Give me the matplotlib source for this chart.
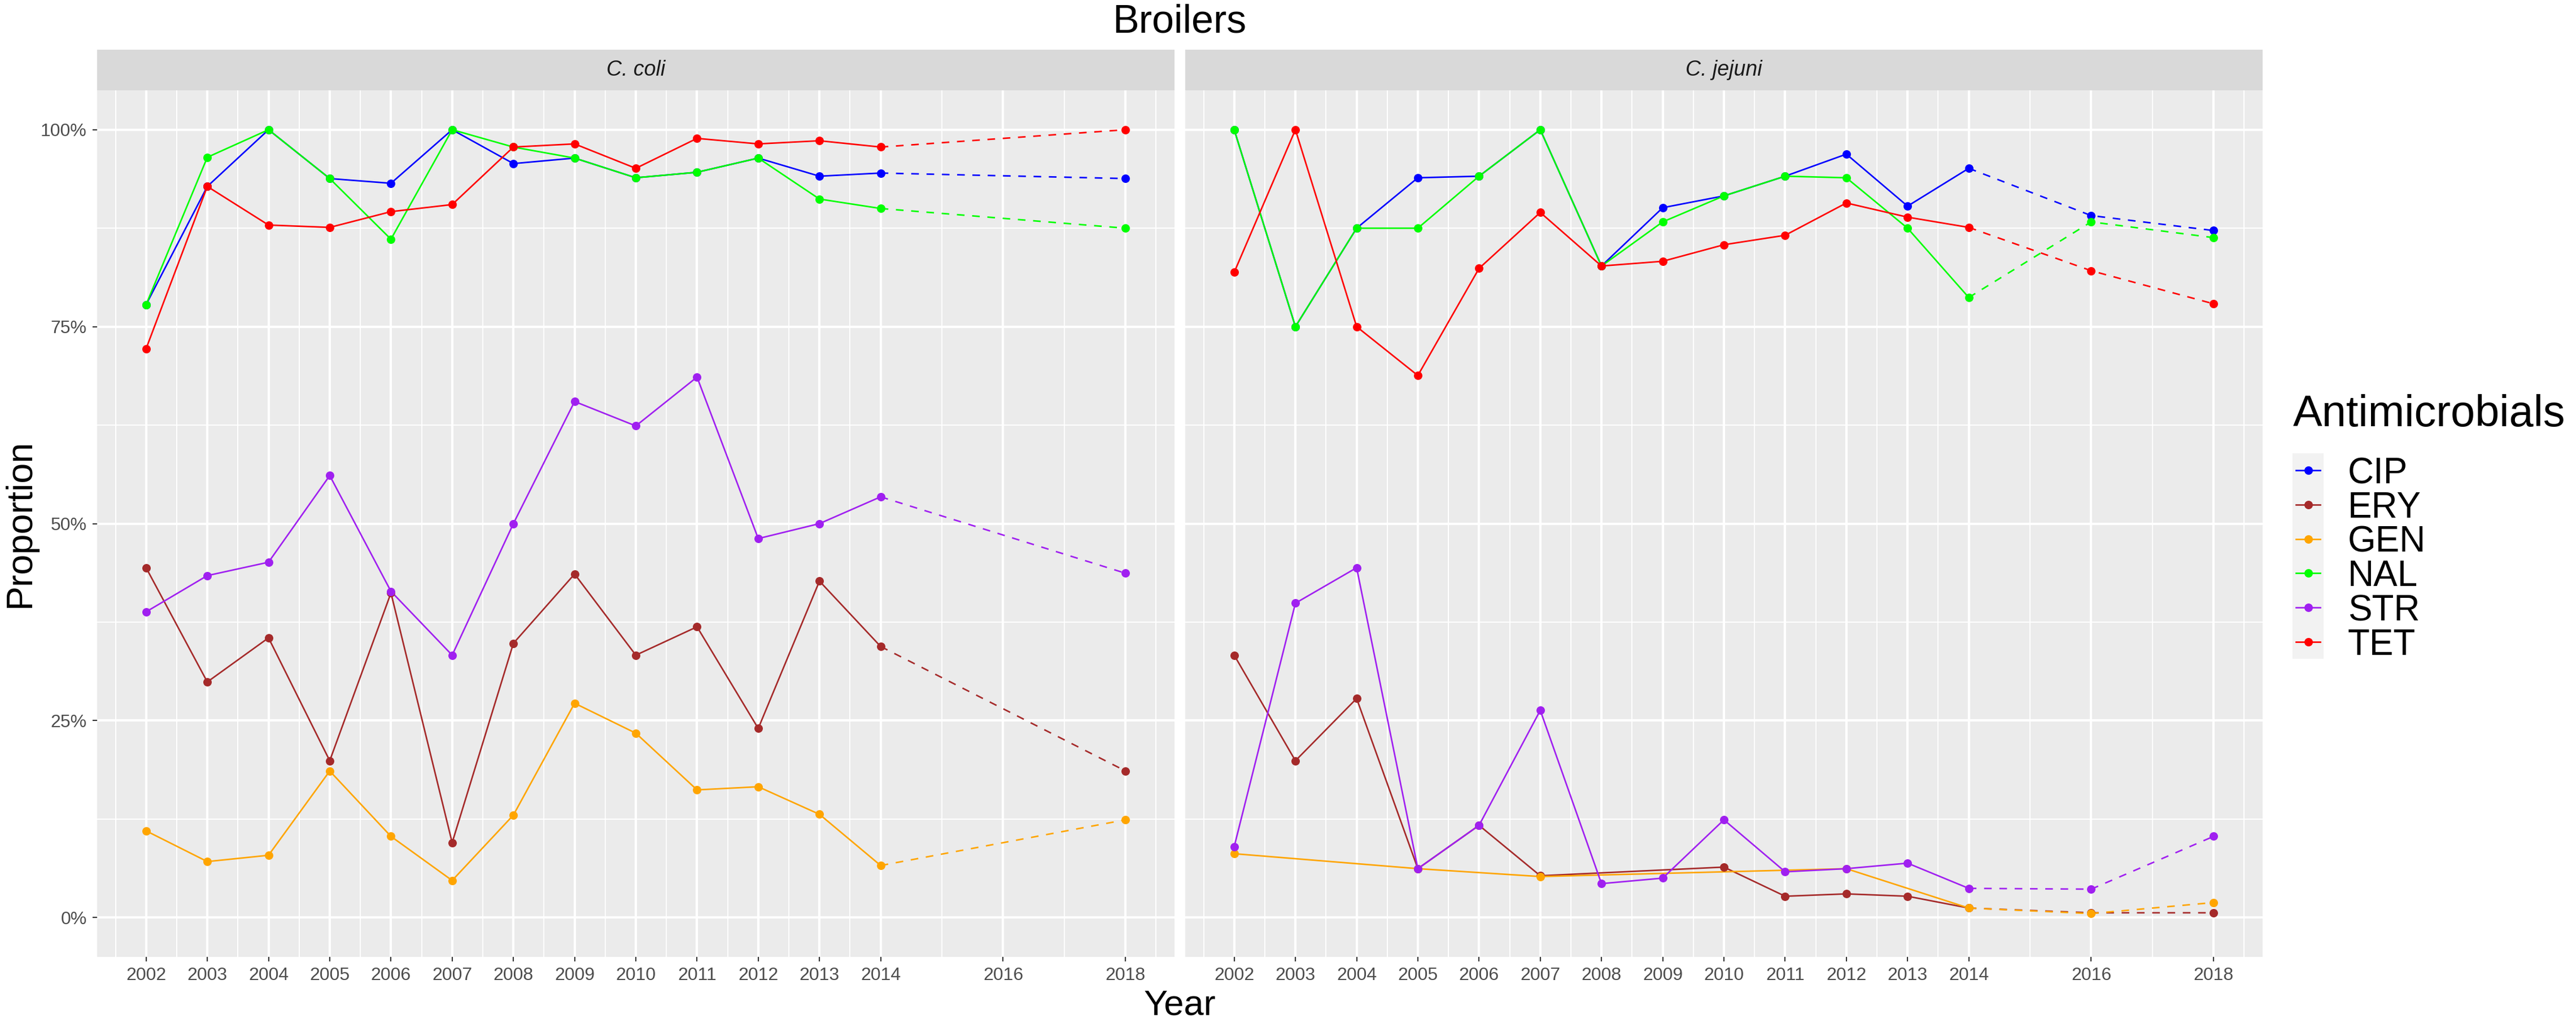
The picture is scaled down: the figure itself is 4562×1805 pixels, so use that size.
import numpy as np
import matplotlib
matplotlib.use("Agg")
import matplotlib.pyplot as plt

plt.rcParams['font.family'] = ['Liberation Sans', 'DejaVu Sans']

W, H = 4562, 1805
DPI = 300

# data (proportion resistant), NaN = no data that year
years = [2002, 2003, 2004, 2005, 2006, 2007, 2008, 2009, 2010, 2011, 2012, 2013, 2014, 2016, 2018]
nan = np.nan

coli_CIP = [0.778, 0.928, 1.0, 0.938, 0.932, 1.0, 0.957, 0.964, 0.939, 0.946, 0.964, 0.941, 0.945, nan, 0.938]
coli_ERY = [0.444, 0.299, 0.355, 0.199, 0.412, 0.095, 0.348, 0.436, 0.333, 0.369, 0.240, 0.427, 0.344, nan, 0.186]
coli_GEN = [0.110, 0.071, 0.079, 0.186, 0.103, 0.047, 0.130, 0.272, 0.234, 0.162, 0.166, 0.131, 0.066, nan, 0.124]
coli_NAL = [0.778, 0.965, 1.0, 0.938, 0.861, 1.0, 0.978, 0.964, 0.939, 0.946, 0.964, 0.912, 0.900, nan, 0.875]
coli_STR = [0.388, 0.434, 0.451, 0.561, 0.414, 0.333, 0.500, 0.655, 0.624, 0.686, 0.481, 0.500, 0.534, nan, 0.437]
coli_TET = [0.722, 0.928, 0.879, 0.876, 0.896, 0.905, 0.978, 0.982, 0.951, 0.989, 0.982, 0.986, 0.978, nan, 1.0]

jej_CIP = [1.0, 0.75, 0.875, 0.939, 0.941, 1.0, 0.827, 0.901, 0.916, 0.941, 0.969, 0.903, 0.951, 0.891, 0.872]
jej_ERY = [0.333, 0.199, 0.278, 0.062, 0.117, 0.053, nan, nan, 0.064, 0.027, 0.030, 0.027, 0.012, 0.006, 0.006]
jej_GEN = [0.081, nan, nan, 0.062, nan, 0.052, nan, nan, nan, nan, 0.062, nan, 0.012, 0.005, 0.019]
jej_NAL = [1.0, 0.75, 0.875, 0.875, 0.941, 1.0, 0.827, 0.883, 0.916, 0.941, 0.939, 0.875, 0.787, 0.883, 0.863]
jej_STR = [0.090, 0.399, 0.444, 0.062, 0.117, 0.263, 0.043, 0.050, 0.124, 0.058, 0.062, 0.069, 0.037, 0.036, 0.103]
jej_TET = [0.819, 1.0, 0.750, 0.688, 0.824, 0.895, 0.827, 0.833, 0.854, 0.866, 0.907, 0.889, 0.876, 0.821, 0.779]

drugs = ['CIP', 'ERY', 'GEN', 'NAL', 'STR', 'TET']
colors = ['#0000FF', '#A52A2A', '#FFA500', '#00FF00', '#A020F0', '#FF0000']
panels = [
    ('C. coli', [coli_CIP, coli_ERY, coli_GEN, coli_NAL, coli_STR, coli_TET]),
    ('C. jejuni', [jej_CIP, jej_ERY, jej_GEN, jej_NAL, jej_STR, jej_TET]),
]
x_breaks = [2002, 2003, 2004, 2005, 2006, 2007, 2008, 2009, 2010, 2011, 2012, 2013, 2014, 2016, 2018]
last_solid = 2014


def fx(px):
    return px / W


def fy(py):
    return 1 - py / H


fig = plt.figure(figsize=(W / DPI, H / DPI), dpi=DPI)

panel_left = [172, 2099]
panel_w = 1908
top, bottom = 160, 1695

x_minor = [(a + b) / 2 for a, b in zip(x_breaks[:-1], x_breaks[1:])] + [2001.5, 2018.5]

for k, (name, series) in enumerate(panels):
    ax = fig.add_axes([fx(panel_left[k]), fy(bottom), panel_w / W, (bottom - top) / H])
    ax.set_facecolor('#EBEBEB')
    for s in ax.spines.values():
        s.set_visible(False)
    ax.set_xlim(2001.2, 2018.8)
    ax.set_ylim(-0.05, 1.05)
    ax.set_xticks(x_breaks)
    ax.set_xticklabels([str(y) for y in x_breaks])
    ax.set_xticks(x_minor, minor=True)
    ax.set_yticks([0, 0.25, 0.5, 0.75, 1.0])
    ax.set_yticklabels(['0%', '25%', '50%', '75%', '100%'])
    ax.set_yticks([0.125, 0.375, 0.625, 0.875], minor=True)
    ax.grid(which='major', color='white', lw=1.0)
    ax.grid(which='minor', color='white', lw=0.5)
    ax.set_axisbelow(True)
    ax.tick_params(which='major', length=2.0, width=0.5, color='#333333',
                   labelsize=7.7, labelcolor='#4D4D4D', pad=2.4)
    ax.tick_params(which='minor', length=0)
    if k == 1:
        ax.tick_params(axis='y', left=False, labelleft=False)

    # lines: solid up to 2014, dashed after
    for vals, c in zip(series, colors):
        yr = np.array(years, dtype=float)
        v = np.array(vals, dtype=float)
        ok = ~np.isnan(v)
        yr, v = yr[ok], v[ok]
        solid = yr <= last_solid
        ax.plot(yr[solid], v[solid], color=c, lw=0.65, solid_capstyle='butt', zorder=2)
        i0 = np.where(solid)[0][-1]
        ax.plot(yr[i0:], v[i0:], color=c, lw=0.65, ls=(0, (5, 5)), zorder=2)
    for vals, c in zip(series, colors):
        ax.plot(years, vals, ls='none', marker='o', ms=3.6, mec='none', mfc=c, zorder=3)

    # facet strip
    sax = fig.add_axes([fx(panel_left[k]), fy(top), panel_w / W, 72 / H])
    sax.set_facecolor('#D9D9D9')
    sax.set_xticks([])
    sax.set_yticks([])
    for s in sax.spines.values():
        s.set_visible(False)
    sax.text(0.5, 0.5, name, transform=sax.transAxes, ha='center', va='center',
             fontsize=9, style='italic', color='#1A1A1A')

# titles
fig.text(fx(2089), fy(57), 'Broilers', ha='center', va='baseline', fontsize=16.8)
fig.text(fx(2089), fy(1797), 'Year', ha='center', va='baseline', fontsize=15.2)
fig.text(fx(53), fy(927), 'Proportion', ha='center', va='baseline', fontsize=15.5,
         rotation=90, rotation_mode='anchor')

# legend
fig.text(fx(4061), fy(755), 'Antimicrobials', ha='left', va='baseline', fontsize=18.6)
lax = fig.add_axes([fx(4060), fy(1167), 55 / W, 364 / H])
lax.set_facecolor('#F2F2F2')
lax.set_xlim(0, 1)
lax.set_ylim(len(drugs), 0)
lax.set_xticks([])
lax.set_yticks([])
for s in lax.spines.values():
    s.set_visible(False)
for i, (d, c) in enumerate(zip(drugs, colors)):
    lax.plot([0.11, 0.89], [i + 0.5, i + 0.5], color=c, lw=0.65)
    lax.plot([0.5], [i + 0.5], marker='o', ms=3.6, mec='none', mfc=c)
    lax.text((4158 - 4060) / 55, i + 0.5 + 0.38, d, ha='left', va='baseline',
             fontsize=15.3, clip_on=False)

fig.savefig('out.png', dpi=DPI)
